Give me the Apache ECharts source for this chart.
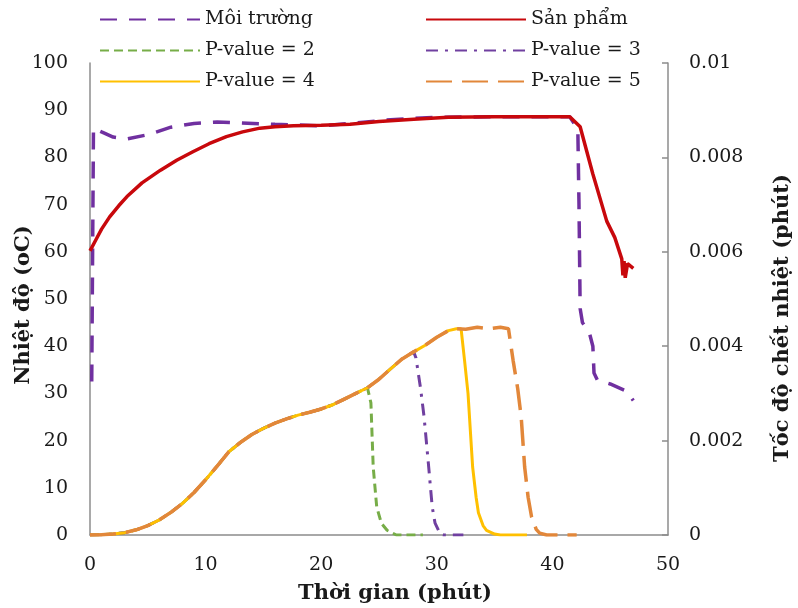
<!DOCTYPE html>
<html>
<head>
<meta charset="utf-8">
<script src="https://cdn.jsdelivr.net/npm/echarts@6/dist/echarts.min.js"></script>
<style>html,body{margin:0;padding:0;background:#fff;}#c{width:798px;height:608px;}</style>
</head>
<body>
<div id="c"></div>
<script>
// ---- Data ----
const xTicks = [0, 10, 20, 30, 40, 50];
const leftTicks = [0, 10, 20, 30, 40, 50, 60, 70, 80, 90, 100];
const rightTickLabels = ['0', '0.002', '0.004', '0.006', '0.008', '0.01'];
const xTitle = 'Thời gian (phút)';

// Môi trường (environment temperature, °C)
const envTime = [0.15, 0.3, 1, 2, 3.2, 5, 7, 9, 11, 13, 16, 20, 23, 26, 30, 35, 41.5, 42.2, 42.3, 42.4, 42.6, 43.2, 43.5, 43.6, 43.9, 45, 46.4, 47];
const envTemp = [32.5, 86.2, 85.4, 84.3, 83.9, 84.8, 86.4, 87.2, 87.5, 87.3, 87.0, 86.7, 87.3, 88.0, 88.5, 88.6, 88.6, 86, 70, 48, 45, 42.8, 40, 34.3, 32.8, 32, 30.5, 28.5];

// Sản phẩm (product temperature, °C)
const prodTime = [0, 0.5, 1, 1.7, 2.5, 3.2, 4.5, 6.1, 7.5, 8.9, 10.3, 11.8, 13.2, 14.7, 16, 17.6, 20, 22.5, 25, 28, 31, 35, 41.5, 42.4, 43.5, 44.7, 45.4, 46.0, 46.1, 46.2, 46.3, 46.5, 47.0];
const prodTemp = [60.2, 62.5, 64.8, 67.4, 69.8, 71.7, 74.6, 77.3, 79.4, 81.2, 82.9, 84.4, 85.4, 86.2, 86.5, 86.7, 86.8, 87.0, 87.6, 88.1, 88.5, 88.6, 88.6, 86.5, 76.5, 66.5, 63, 58.5, 55, 58, 54.5, 57.5, 56.5];

// Shared rising part of the lethal-rate curves (1/phút)
const baseTime = [0, 1, 2, 3, 4, 5, 6, 7, 8, 9, 10, 11, 12, 13, 14, 15, 16, 17, 18, 19, 20, 21, 22, 23, 24, 25, 26, 27, 28, 29, 30, 31, 31.7];
const baseRate = [0, 0.000005, 0.00002, 0.00005, 0.00011, 0.0002, 0.00032, 0.00048, 0.00067, 0.0009, 0.00117, 0.00146, 0.00176, 0.00196, 0.00213, 0.00226, 0.00237, 0.00246, 0.00254, 0.0026, 0.00267, 0.00276, 0.00288, 0.003, 0.00312, 0.0033, 0.00352, 0.00373, 0.00388, 0.00402, 0.00419, 0.00433, 0.00437];

// Tails after each curve leaves the shared part
const p2Time = [24.3, 24.5, 24.8, 25.2, 25.7, 26.5, 28.8];
const p2Rate = [0.0028, 0.00144, 0.0006, 0.00025, 0.0001, 0, 0];
const p3Time = [28.2, 28.6, 28.9, 29.3, 29.6, 29.85, 30.3, 30.6, 32.3];
const p3Rate = [0.00375, 0.0031, 0.0025, 0.00144, 0.0006, 0.00025, 0.00002, 0, 0];
const p4Time = [32.1, 32.4, 32.7, 33.1, 33.4, 33.6, 34.0, 34.3, 35.0, 35.5, 37.8];
const p4Rate = [0.00437, 0.0037, 0.003, 0.00144, 0.0008, 0.00047, 0.0002, 0.0001, 0.00002, 0, 0];
const p5Time = [32.5, 33.5, 34.5, 35.5, 36.2, 36.6, 37.0, 37.3, 37.6, 37.9, 38.2, 38.6, 38.9, 39.5, 42.1];
const p5Rate = [0.00436, 0.0044, 0.00437, 0.0044, 0.00437, 0.0037, 0.0031, 0.0025, 0.00144, 0.0008, 0.00038, 0.00012, 0.00004, 0, 0];

// ---- build ----
function zip(a, b) { return a.map((v, i) => [v, b[i]]); }
function withBase(until, t, r) {
  const pts = [];
  for (let i = 0; i < baseTime.length; i++) if (baseTime[i] <= until) pts.push([baseTime[i], baseRate[i]]);
  return pts.concat(zip(t, r));
}

const FONT = 'DejaVu Serif';
const TXT = '#1a1a1a';
const AX = '#8c8c8c';

const chart = echarts.init(document.getElementById('c'), null, { renderer: 'canvas' });

function lineSeries(name, data, color, width, dash, yIdx) {
  return {
    name, type: 'line', data, yAxisIndex: yIdx, symbol: 'none', smooth: false,
    lineStyle: { color, width, type: dash, cap: 'butt' },
    itemStyle: { color },
    animation: false
  };
}

const legendCommon = {
  orient: 'vertical', top: 8, itemWidth: 100, itemHeight: 14, itemGap: 8, padding: 0,
  itemStyle: { opacity: 0, borderWidth: 0 },
  textStyle: { fontFamily: FONT, fontSize: 19, color: TXT, lineHeight: 23 }
};

const option = {
  animation: false,
  backgroundColor: '#fff',
  grid: { left: 90, right: 130, top: 63, bottom: 73, containLabel: false, outerBoundsMode: 'none' },
  legend: [
    Object.assign({}, legendCommon, { left: 99, data: ['Môi trường', 'P-value = 2', 'P-value = 4'] }),
    Object.assign({}, legendCommon, { left: 425, data: ['Sản phẩm', 'P-value = 3', 'P-value = 5'] })
  ],
  graphic: [{
    type: 'text', x: 395, y: 594, silent: true,
    style: {
      text: xTitle, fill: TXT, font: 'bold 21px "DejaVu Serif"',
      align: 'center', verticalAlign: 'middle', textAlign: 'center', textVerticalAlign: 'middle'
    }
  }],
  xAxis: {
    type: 'value', min: xTicks[0], max: xTicks[xTicks.length - 1], interval: 10,
    axisLine: { show: true, onZero: false, lineStyle: { color: AX, width: 1.5 } },
    axisTick: { show: false },
    splitLine: { show: false },
    axisLabel: { fontFamily: FONT, fontSize: 19, color: TXT, margin: 10, lineHeight: 40 }
  },
  yAxis: [
    {
      type: 'value', min: leftTicks[0], max: leftTicks[leftTicks.length - 1], interval: 10,
      name: 'Nhiệt độ (oC)', nameLocation: 'middle', nameGap: 56, nameRotate: 90, nameMoveOverlap: false,
      nameTextStyle: { fontFamily: FONT, fontSize: 21, fontWeight: 'bold', color: TXT, padding: [0, 12, 0, 0] },
      axisLine: { show: true, lineStyle: { color: AX, width: 1.5 } },
      axisTick: { show: false },
      splitLine: { show: false },
      axisLabel: { fontFamily: FONT, fontSize: 19, color: TXT, margin: 22 }
    },
    {
      type: 'value', min: 0, max: 0.01, interval: 0.002, position: 'right',
      name: 'Tốc độ chết nhiệt (phút)', nameLocation: 'middle', nameGap: 104, nameRotate: 90, nameMoveOverlap: false,
      nameTextStyle: { fontFamily: FONT, fontSize: 21, fontWeight: 'bold', color: TXT, padding: [0, 38, 0, 0] },
      axisLine: { show: true, lineStyle: { color: AX, width: 1.5 } },
      axisTick: { show: true, inside: true, length: 6, lineStyle: { color: AX, width: 1.5 } },
      splitLine: { show: false },
      axisLabel: {
        fontFamily: FONT, fontSize: 19, color: TXT, margin: 21,
        formatter: (v) => rightTickLabels[Math.round(v / 0.002)]
      }
    }
  ],
  series: [
    lineSeries('Môi trường', zip(envTime, envTemp), '#7030A0', 3.5, [17, 12], 0),
    lineSeries('Sản phẩm', zip(prodTime, prodTemp), '#C8080C', 3.5, 'solid', 0),
    lineSeries('P-value = 2', withBase(24.0, p2Time, p2Rate), '#77AD48', 3, [9, 5], 1),
    lineSeries('P-value = 3', withBase(28.0, p3Time, p3Rate), '#7040A0', 3, [12, 7, 3, 7], 1),
    lineSeries('P-value = 4', withBase(31.7, p4Time, p4Rate), '#FFC000', 3, 'solid', 1),
    lineSeries('P-value = 5', withBase(31.7, p5Time, p5Rate), '#E2873A', 3.5, [26, 10], 1)
  ]
};
chart.setOption(option);
</script>
</body>
</html>
